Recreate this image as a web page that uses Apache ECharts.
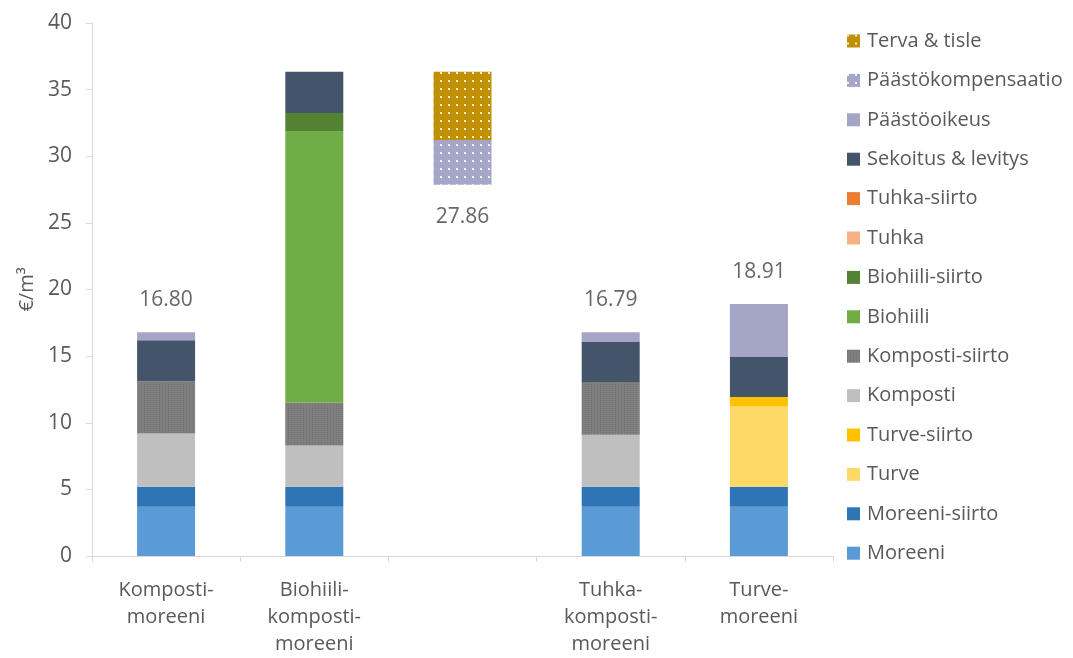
<!DOCTYPE html>
<html>
<head>
<meta charset="utf-8">
<script src="https://cdn.jsdelivr.net/npm/echarts@6/dist/echarts.min.js"></script>
<style>html,body{margin:0;padding:0;background:#fff;}#c{width:1073px;height:658px;}</style>
</head>
<body>
<div id="c"></div>
<script>
const categories = ['Komposti-\nmoreeni', 'Biohiili-\nkomposti-\nmoreeni', '', 'Tuhka-\nkomposti-\nmoreeni', 'Turve-\nmoreeni'];
const yTicks = [0, 5, 10, 15, 20, 25, 30, 35, 40];

const moreeni          = [3.7, 3.7, null, 3.7, 3.7];
const moreeniSiirto    = [1.5, 1.5, null, 1.5, 1.5];
const turve            = [null, null, null, null, 6.06];
const turveSiirto      = [null, null, null, null, 0.67];
const komposti         = [4.0, 3.1, null, 3.9, null];
const kompostiSiirto   = [3.9, 3.2, null, 3.95, null];
const biohiili         = [null, 20.39, null, null, null];
const biohiiliSiirto   = [null, 1.35, null, null, null];
const tuhka            = [null, null, null, null, null];
const tuhkaSiirto      = [null, null, null, null, null];
const sekoitus         = [3.1, 3.1, null, 3.05, 3.0];
const paastooikeus     = [0.6, null, null, 0.69, 3.98];
const floatBase        = [null, null, 27.86, null, null];
const paastokompensaatio = [null, null, 3.36, null, null];
const terva            = [null, null, 5.12, null, null];
const totals           = [16.80, null, 27.86, 16.79, 18.91];

const font = '"Open Sans", Lato, "Liberation Sans", sans-serif';
const txt = '#595959';

function bar(name, data, color, decal) {
  const s = { name, type: 'bar', stack: 'a', data, barWidth: 58,
    itemStyle: { color }, emphasis: { disabled: true } };
  if (decal) s.itemStyle.decal = decal;
  return s;
}
const dotDecal = { symbol: 'rect', symbolSize: 1, color: 'rgba(255,255,255,0.85)',
  dashArrayX: [[2, 6]], dashArrayY: [2, 6] };

const series = [
  bar('Moreeni', moreeni, '#5B9BD5'),
  bar('Moreeni-siirto', moreeniSiirto, '#2E75B6'),
  bar('Turve', turve, '#FFD966'),
  bar('Turve-siirto', turveSiirto, '#FFC000'),
  bar('Komposti', komposti, '#BFBFBF'),
  bar('Komposti-siirto', kompostiSiirto, '#7F7F7F', { symbol: 'rect', symbolSize: 1, color: 'rgba(90,90,90,0.35)', dashArrayX: [[1, 2]], dashArrayY: [1, 1] }),
  bar('Biohiili', biohiili, '#70AD47'),
  bar('Biohiili-siirto', biohiiliSiirto, '#548235'),
  bar('Tuhka', tuhka, '#F4B183'),
  bar('Tuhka-siirto', tuhkaSiirto, '#ED7D31'),
  bar('Sekoitus & levitys', sekoitus, '#44546A'),
  bar('Päästöoikeus', paastooikeus, '#A5A5C8'),
  Object.assign(bar('base', floatBase, 'rgba(0,0,0,0)'), { silent: true }),
  bar('Päästökompensaatio', paastokompensaatio, '#A5A5C8', dotDecal),
  bar('Terva & tisle', terva, '#BF9000', dotDecal),
  { name: 'totals', type: 'scatter', symbolSize: 0, silent: true,
    data: totals.map((v, i) => v == null ? null : {
      value: v,
      label: { show: true, position: i === 2 ? 'bottom' : 'top', distance: 22,
        formatter: (p) => p.value.toFixed(2), color: '#404040', fontSize: 21, fontFamily: font }
    }) }
];

const legendOrder = ['Terva & tisle', 'Päästökompensaatio', 'Päästöoikeus', 'Sekoitus & levitys',
  'Tuhka-siirto', 'Tuhka', 'Biohiili-siirto', 'Biohiili', 'Komposti-siirto', 'Komposti',
  'Turve-siirto', 'Turve', 'Moreeni-siirto', 'Moreeni'];

const chart = echarts.init(document.getElementById('c'), null, { renderer: 'canvas' });
chart.setOption({
  animation: false,
  backgroundColor: '#fff',
  grid: { left: 92, right: 240, top: 23, bottom: 100, containLabel: false },
  legend: {
    data: legendOrder, orient: 'vertical', left: 847, top: 31, padding: 0,
    itemWidth: 13, itemHeight: 13, itemGap: 19.4, selectedMode: false,
    icon: 'rect',
    textStyle: { color: txt, fontSize: 20, fontFamily: font, lineHeight: 20, padding: [0, 0, 0, 2] }
  },
  xAxis: {
    type: 'category', data: categories,
    axisLine: { lineStyle: { color: '#D9D9D9', width: 1 } },
    axisTick: { show: true, length: 6, alignWithLabel: false, lineStyle: { color: '#D9D9D9' } },
    axisLabel: { color: txt, fontSize: 20, fontFamily: font, lineHeight: 27, margin: 21, interval: 0 }
  },
  yAxis: {
    type: 'value', min: yTicks[0], max: yTicks[yTicks.length - 1], interval: 5,
    name: '€/m³', nameLocation: 'middle', nameGap: 52, nameRotate: 90,
    nameTextStyle: { color: txt, fontSize: 20, fontFamily: font },
    axisLine: { show: true, lineStyle: { color: '#D9D9D9' } },
    axisTick: { show: true, length: 6, lineStyle: { color: '#D9D9D9' } },
    axisLabel: { color: txt, fontSize: 21, fontFamily: font, margin: 20 },
    splitLine: { show: false }
  },
  series
});
</script>
</body>
</html>
